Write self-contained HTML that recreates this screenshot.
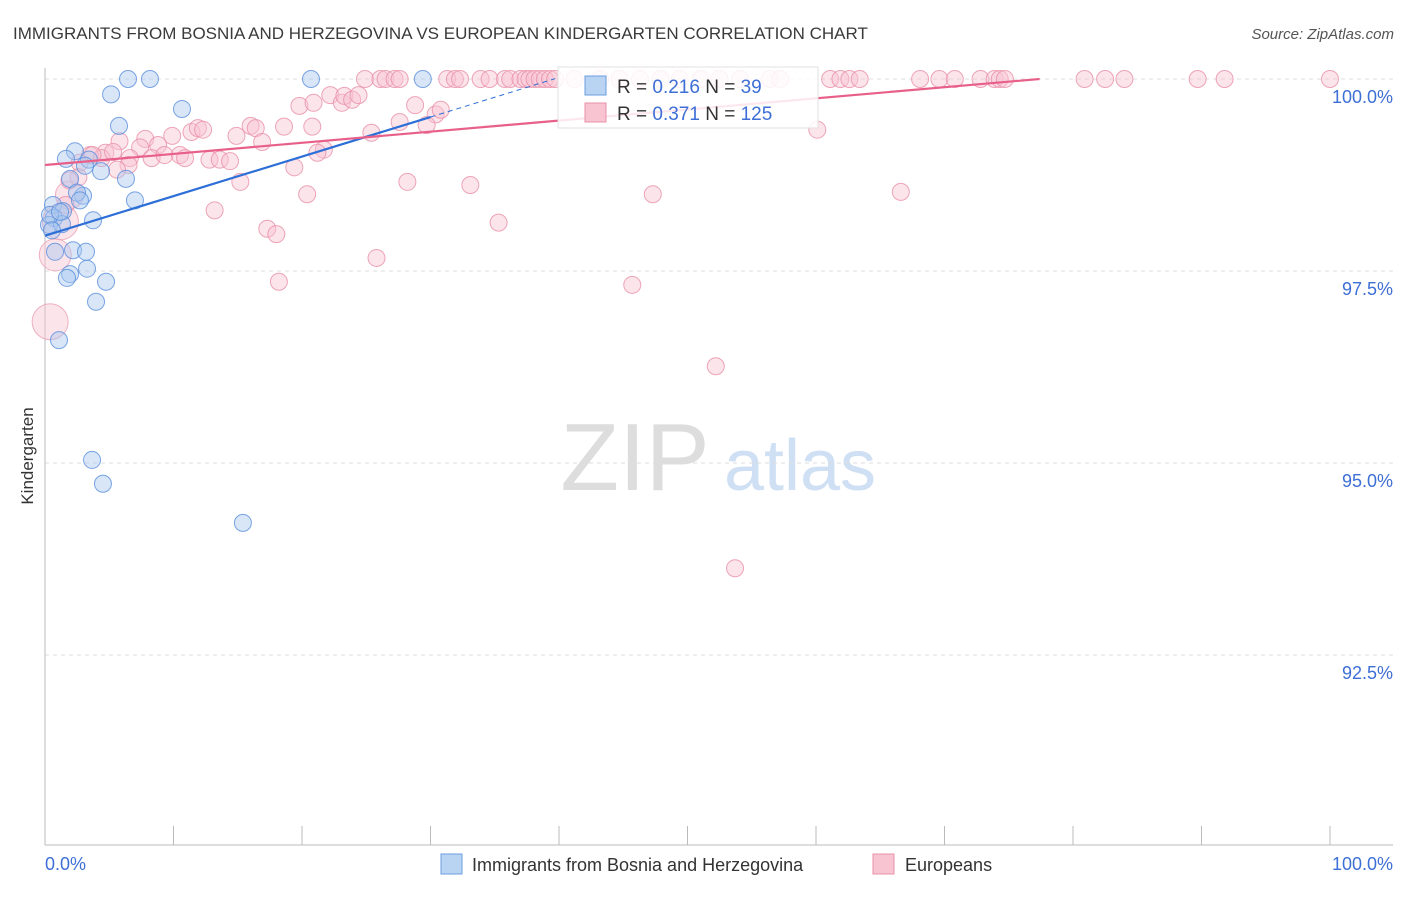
<!DOCTYPE html>
<html><head><meta charset="utf-8"><style>
body{margin:0;background:#fff;font-family:"Liberation Sans",sans-serif;}
svg text{font-family:"Liberation Sans",sans-serif;}
</style></head><body>
<svg id="chart" width="1406" height="892" viewBox="0 0 1406 892">
<text x="13" y="39" font-size="17" fill="#3a3a3a">IMMIGRANTS FROM BOSNIA AND HERZEGOVINA VS EUROPEAN KINDERGARTEN CORRELATION CHART</text>
<text x="1394" y="39" font-size="15" fill="#555" text-anchor="end" font-style="italic">Source: ZipAtlas.com</text>
<text transform="translate(33,456) rotate(-90)" font-size="17" fill="#333" text-anchor="middle">Kindergarten</text>
<g>
<text x="635" y="490" font-size="96" fill="#dddddd" text-anchor="middle" font-family="Liberation Serif">ZIP</text>
<text x="800" y="490" font-size="72" fill="#cfe0f4" text-anchor="middle">atlas</text>
</g>
<g id="grid"></g>
<g id="axes"></g>
<g id="pts"></g>
<g id="trends"></g>
<g>
<rect x="558" y="67" width="260" height="61" fill="#fff" fill-opacity="0.85" stroke="#e0e0e0"/>
<rect x="585" y="76" width="21" height="19" fill="#b9d3f3" stroke="#6a9ee0"/>
<text x="617" y="93" font-size="19" fill="#333">R = <tspan fill="#3d6fd6">0.216</tspan>   N = <tspan fill="#3d6fd6">39</tspan></text>
<rect x="585" y="103" width="21" height="19" fill="#f8c4d2" stroke="#e890a8"/>
<text x="617" y="120" font-size="19" fill="#333">R = <tspan fill="#3d6fd6">0.371</tspan>   N = <tspan fill="#3d6fd6">125</tspan></text>
</g>
<g>
<rect x="441" y="854" width="21" height="20" fill="#b9d3f3" stroke="#6a9ee0"/>
<text x="472" y="871" font-size="18" fill="#333">Immigrants from Bosnia and Herzegovina</text>
<rect x="873" y="854" width="21" height="20" fill="#f8c4d2" stroke="#e890a8"/>
<text x="905" y="871" font-size="18" fill="#333">Europeans</text>
</g>
</svg>
<script>
const yTicks=[100,97.5,95,92.5];
const yTickLabels=["100.0%","97.5%","95.0%","92.5%"];
const xTicks=[0,10,20,30,40,50,60,70,80,90,100];
const xEndLabels=["0.0%","100.0%"];
const bosniaX=[6.46,8.17,20.7,29.4,5.14,10.66,5.76,2.33,1.63,3.42,4.36,6.3,1.95,2.96,2.49,7.0,0.62,1.4,0.7,3.74,0.31,1.32,2.18,3.19,0.78,3.27,1.95,1.71,4.75,3.97,1.09,3.66,4.51,15.4,2.72,0.39,0.54,1.17,3.11];
const bosniaY=[100,100,100,100,99.80,99.61,99.39,99.06,98.96,98.95,98.80,98.70,98.70,98.48,98.52,98.42,98.36,98.28,98.19,98.16,98.10,98.11,97.77,97.75,97.75,97.53,97.46,97.41,97.36,97.10,96.60,95.04,94.73,94.22,98.42,98.23,98.03,98.27,98.87];
const euroTopX=[24.9,26.1,26.5,27.2,27.6,31.3,31.9,32.3,33.9,34.6,35.8,36.2,37.0,37.4,37.7,38.1,38.5,38.9,39.3,39.7,41.2,43.2,44.7,46.3,47.9,49.4,51.0,52.5,54.1,56.4,57.2,61.1,61.9,62.6,63.4,68.1,69.6,70.8,72.8,73.9,74.3,74.7,80.9,82.5,84.0,89.7,91.8,100];
const euroX=[19.8,20.9,22.2,23.1,23.3,23.9,24.4,28.8,30.4,30.8,27.6,29.7,25.4,20.8,18.6,16.0,16.4,14.9,16.9,11.4,11.9,12.3,9.9,7.8,8.8,5.8,7.4,4.7,3.5,2.7,4.4,6.6,8.3,9.3,10.5,10.9,12.8,13.6,14.4,6.5,5.6,2.6,3.7,5.3,21.7,21.2,19.4,15.2,13.2,17.3,18.0,20.4,25.8,18.2,28.2,33.1,35.3,47.3,45.7,52.2,53.7,60.1,66.6,1.6,1.9];
const euroY=[99.65,99.69,99.79,99.69,99.78,99.73,99.79,99.66,99.54,99.60,99.44,99.40,99.30,99.38,99.38,99.39,99.36,99.26,99.18,99.31,99.36,99.34,99.26,99.22,99.14,99.19,99.11,99.04,99.01,98.91,98.97,98.97,98.97,99.01,99.01,98.97,98.95,98.95,98.93,98.88,98.82,98.72,99.01,99.05,99.08,99.04,98.85,98.66,98.29,98.05,97.98,98.50,97.67,97.36,98.66,98.62,98.13,98.50,97.32,96.26,93.63,99.34,98.53,98.36,98.68];
const euroBigX=[0.4,1.2,0.8,1.9];
const euroBigY=[96.84,98.14,97.71,98.49];
const euroBigR=[18,18,16,14];
const bosniaTrend=[97.96,0.0515];
const euroTrend=[98.88,0.01447];

const NS="http://www.w3.org/2000/svg";
const xs=v=>45+v*12.85;
const ys=v=>79+(100-v)*76.8;
function mk(tag,attrs,parent){const e=document.createElementNS(NS,tag);for(const k in attrs)e.setAttribute(k,attrs[k]);document.getElementById(parent).appendChild(e);return e;}
yTicks.forEach((t,i)=>{
 const l=mk('line',{x1:45,x2:1393,y1:ys(t),y2:ys(t),stroke:'#dddddd','stroke-dasharray':'4,4'},'grid');
 
 
 const tx=mk('text',{x:1393,y:ys(t)+24,'font-size':18,fill:'#3d6fd6','text-anchor':'end'},'grid');
 tx.textContent=yTickLabels[i];
 
 
});
const ax=mk('line',{x1:45,x2:1393,y1:845,y2:845,stroke:'#bbb'},'axes');


const ay=mk('line',{x1:45,x2:45,y1:68,y2:845,stroke:'#bbb'},'axes');


xTicks.forEach(t=>{
 const l=mk('line',{x1:xs(t),x2:xs(t),y1:826,y2:845,stroke:'#bbb'},'axes');
 
 
});
[[0,'start',45],[1,'end',1393]].forEach(([i,a,x])=>{
 const tx=mk('text',{x:x,y:870,'font-size':18,fill:'#3d6fd6','text-anchor':a},'axes');
 tx.textContent=xEndLabels[i];
 
 
});
function pt(x,y,r,fill,stroke,name){
 const c=mk('circle',{cx:xs(x),cy:ys(y),r:r,fill:fill,'fill-opacity':0.45,stroke:stroke,'stroke-opacity':0.8,'stroke-width':1},'pts');
 
 
}
euroBigX.forEach((x,i)=>pt(x,euroBigY[i],euroBigR[i],'#f8c4d2','#eaa0b6','europeans-point'));
euroTopX.forEach(x=>pt(x,100,8.5,'#f8c4d2','#e890a8','europeans-point'));
euroX.forEach((x,i)=>pt(x,euroY[i],8.5,'#f8c4d2','#e890a8','europeans-point'));
bosniaX.forEach((x,i)=>pt(x,bosniaY[i],8.5,'#a9c8f0','#5a8fdc','bosnia-point'));
const bEnd=30, bDash=39.7;
const bl=mk('line',{x1:xs(0),y1:ys(bosniaTrend[0]),x2:xs(bEnd),y2:ys(bosniaTrend[0]+bosniaTrend[1]*bEnd),stroke:'#2d6fd6','stroke-width':2.2},'trends');


const bd=mk('line',{x1:xs(bEnd),y1:ys(bosniaTrend[0]+bosniaTrend[1]*bEnd),x2:xs(bDash),y2:ys(bosniaTrend[0]+bosniaTrend[1]*bDash),stroke:'#2d6fd6','stroke-width':1,'stroke-dasharray':'5,4'},'trends');


const eEnd=(100-euroTrend[0])/euroTrend[1];
const el=mk('line',{x1:xs(0),y1:ys(euroTrend[0]),x2:xs(eEnd),y2:ys(100),stroke:'#e8608a','stroke-width':2.2},'trends');


</script>
</body></html>
